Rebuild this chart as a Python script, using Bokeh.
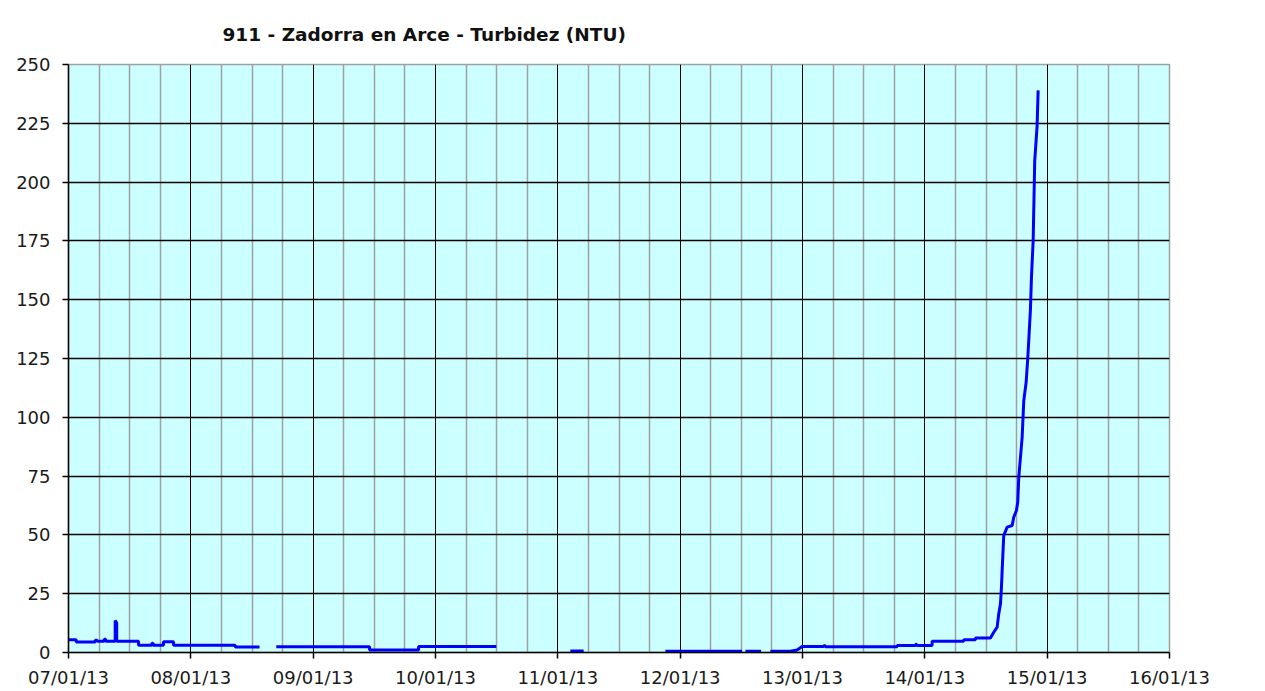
import math
import pandas as pd
from bokeh.plotting import figure
from bokeh.models import FixedTicker, DatetimeTickFormatter, Range1d, ColumnDataSource
from bokeh.embed import file_html
from bokeh.resources import INLINE

NaN = float("nan")

title_text = "911 - Zadorra en Arce - Turbidez (NTU)"
start_date = "2013-01-07 00:00"
n_days = 9
y_ticks = [0, 25, 50, 75, 100, 125, 150, 175, 200, 225, 250]

# hours since 07/01/13 00:00 and turbidity (NTU); NaN marks a data gap
hours = [0.0, 1.51, 1.51, 5.24, 5.24, 5.63, 5.63, 7.0, 7.0, 7.3, 7.3, 9.16, 9.16, 9.46, 9.46,
         13.74, 13.74, 16.37, 16.37, 16.6, 16.6, 18.64, 18.64, 20.61, 20.61, 32.71, 32.71, 37.48,
         37.5,
         40.76, 59.07, 59.07, 68.68, 68.68, 83.93,
         84.0,
         98.45, 101.06,
         101.1,
         117.1, 132.15,
         132.5,
         132.8, 135.88,
         136.5,
         137.7, 141.63, 142.94, 143.92, 148.16, 148.16, 148.5, 148.5, 162.56, 162.56, 166.2,
         166.2, 166.4, 166.4, 169.43, 169.43, 175.63, 175.63, 177.93, 177.93, 180.87, 181.52,
         182.19, 182.5, 182.84, 183.03, 183.17, 183.48, 184.15, 185.13, 185.44, 185.97, 186.23,
         186.43, 186.76, 187.09, 187.41, 187.88, 188.19, 188.39, 188.72, 188.92, 189.25, 189.56,
         190.03, 190.23]
ntu = [5.4, 5.4, 4.5, 4.5, 5.2, 5.2, 4.8, 4.8, 5.6, 5.6, 4.8, 4.8, 13.6, 12.5, 4.8,
       4.8, 3.1, 3.1, 3.9, 3.9, 3.1, 3.1, 4.6, 4.6, 3.1, 3.1, 2.3, 2.3,
       NaN,
       2.4, 2.4, 1.1, 1.1, 2.5, 2.5,
       NaN,
       0.6, 0.6,
       NaN,
       0.5, 0.5,
       NaN,
       0.5, 0.5,
       NaN,
       0.5, 0.5, 1.1, 2.5, 2.5, 2.9, 2.9, 2.4, 2.4, 3.0, 3.0,
       3.5, 3.5, 3.0, 3.0, 4.8, 4.8, 5.4, 5.4, 6.2, 6.2, 8.6,
       10.8, 16.4, 20.7, 27.8, 34.9, 49.7, 53.3, 54.0, 57.5, 60.4, 63.9,
       74.5, 83.0, 91.5, 107.0, 115.0, 125.0, 132.7, 146.0, 159.6, 175.0, 209.0,
       224.0, 239.0]

t0 = pd.Timestamp(start_date)
times = [t0 + pd.Timedelta(hours=h) for h in hours]
src = ColumnDataSource(data=dict(t=times, v=ntu))

day_ms = [(t0 + pd.Timedelta(days=d)).value / 1e6 for d in range(n_days + 1)]
six_h_ms = [(t0 + pd.Timedelta(hours=6 * k)).value / 1e6 for k in range(n_days * 4 + 1) if k % 4 != 0]

p = figure(frame_width=1101, frame_height=588, x_axis_type="datetime",
           output_backend="svg", toolbar_location=None,
           min_border_left=68, min_border_right=96, min_border_top=64, min_border_bottom=39,
           background_fill_color="#CCFFFF", border_fill_color="white",
           x_range=Range1d(day_ms[0], day_ms[-1]), y_range=Range1d(0, 250))

p.title.text = title_text
p.title.align = "left"
p.title.offset = 154
p.title.standoff = 40
p.title.text_font = "DejaVu Sans"
p.title.text_font_style = "bold"
p.title.text_font_size = "18.5px"
p.title.text_color = "#111111"

p.outline_line_color = "#A0A0A0"
p.outline_line_width = 1.5

# axes
p.xaxis.ticker = FixedTicker(ticks=day_ms, minor_ticks=[])
p.xaxis.formatter = DatetimeTickFormatter(days="%d/%m/%y", months="%d/%m/%y", hours="%d/%m/%y")
p.yaxis.ticker = FixedTicker(ticks=y_ticks, minor_ticks=[])
for ax in (p.xaxis, p.yaxis):
    ax.axis_line_color = "black"
    ax.axis_line_width = 1.5
    ax.major_tick_line_color = "black"
    ax.major_tick_line_width = 1.5
    ax.major_tick_out = 6
    ax.major_tick_in = 0
    ax.minor_tick_line_color = None
    ax.major_label_text_font = "DejaVu Sans"
    ax.major_label_text_font_size = "18px"
    ax.major_label_text_color = "#1a1a1a"
p.xaxis.major_label_standoff = 8
p.yaxis.major_label_standoff = 12

# grids
p.xgrid.ticker = FixedTicker(ticks=day_ms, minor_ticks=six_h_ms)
p.xgrid.grid_line_color = "black"
p.xgrid.grid_line_width = 1
p.xgrid.minor_grid_line_color = "#A0A0A0"
p.xgrid.minor_grid_line_width = 1.5
p.ygrid.ticker = FixedTicker(ticks=y_ticks)
p.ygrid.grid_line_color = "black"
p.ygrid.grid_line_width = 1.5

p.line("t", "v", source=src, line_color="#0000FF", line_width=3)

open("out.html", "w").write(file_html(p, INLINE))
